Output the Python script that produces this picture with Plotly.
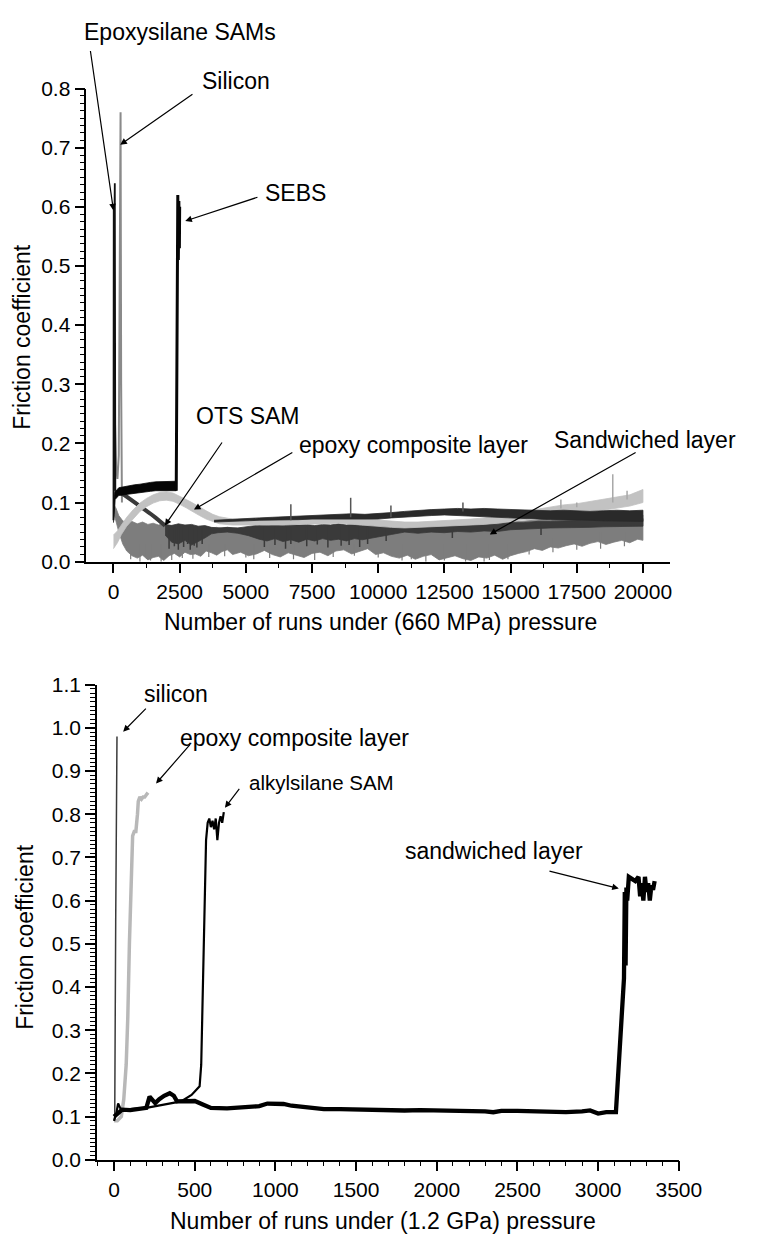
import plotly.graph_objects as go

W, H = 761, 1246
FONT = "Liberation Sans, Arial, Helvetica, sans-serif"

# ---------------- Top chart: 660 MPa ----------------
# Sandwiched layer (mid grey noisy band)
sand_x = [0, 100, 200, 350, 500, 700, 900, 1100, 1300, 1500, 1700, 1900, 2100, 2300, 2500, 2700,
          2900, 3100, 3300, 3500, 3700, 3900, 4100, 4300, 4500, 4800, 5100, 5400, 5700, 6000, 6300,
          6600, 6900, 7200, 7500, 7800, 8100, 8400, 8700, 9000, 9300, 9600, 9900, 10200, 10500,
          10800, 11100, 11400, 11700, 12000, 12300, 12600, 12900, 13200, 13500, 13800, 14100,
          14400, 14700, 15000, 15300, 15600, 15900, 16200, 16500, 16800, 17100, 17400, 17700,
          18000, 18300, 18600, 18900, 19200, 19500, 19800, 20000]
sand_hi = [0.098, 0.09, 0.078, 0.069, 0.066, 0.068, 0.064, 0.067, 0.063, 0.065, 0.062, 0.064, 0.061,
           0.062, 0.06, 0.061, 0.059, 0.06, 0.058, 0.059, 0.057, 0.058, 0.056, 0.058, 0.056, 0.057,
           0.055, 0.057, 0.055, 0.056, 0.058, 0.055, 0.057, 0.056, 0.058, 0.055, 0.057, 0.056, 0.058,
           0.057, 0.059, 0.057, 0.06, 0.059, 0.061, 0.06, 0.062, 0.061, 0.063, 0.062, 0.064, 0.062,
           0.064, 0.063, 0.065, 0.064, 0.066, 0.065, 0.066, 0.067, 0.068, 0.069, 0.07, 0.071, 0.07,
           0.072, 0.073, 0.072, 0.074, 0.075, 0.074, 0.076, 0.077, 0.076, 0.078, 0.077, 0.079]
sand_lo = [0.085, 0.068, 0.05, 0.03, 0.018, 0.01, 0.006, 0.011, 0.003, 0.007, 0.009, 0.002, 0.01,
           0.014, 0.008, 0.016, 0.012, 0.013, 0.009, 0.018, 0.015, 0.011, 0.017, 0.02, 0.012, 0.016,
           0.01, 0.013, 0.019, 0.012, 0.008, 0.015, 0.011, 0.007, 0.014, 0.016, 0.01, 0.018, 0.02,
           0.013, 0.017, 0.022, 0.012, 0.015, 0.009, 0.006, 0.011, 0.004, 0.009, 0.012, 0.003,
           0.007, 0.01, 0.005, 0.002, 0.008, 0.006, 0.011, 0.004, 0.01, 0.014, 0.017, 0.022, 0.019,
           0.025, 0.023, 0.027, 0.03, 0.026, 0.031, 0.034, 0.029, 0.033, 0.036, 0.032, 0.038, 0.036]
# thin downward noise spikes of the mid grey band
mspk_x = [650, 1000, 1250, 1400, 1800, 2200, 2600, 3000, 3600, 4200, 5000, 5300, 5900, 6800, 7600,
          8300, 9100, 10000, 10900, 11250, 11800, 12500, 13300, 14000, 14200, 14900, 15700, 16600,
          17500, 18400, 19300]
mspk_lo = [0.004, 0.0, 0.005, 0.002, 0.0, 0.003, 0.006, 0.005, 0.008, 0.009, 0.007, 0.004, 0.006,
           0.004, 0.003, 0.008, 0.01, 0.007, 0.002, 0.004, 0.0, 0.002, 0.0, 0.0, 0.003, 0.004,
           0.012, 0.016, 0.02, 0.022, 0.026]
mspk_hi = [0.03, 0.03, 0.03, 0.03, 0.03, 0.03, 0.03, 0.03, 0.03, 0.03, 0.03, 0.03, 0.03, 0.03,
           0.03, 0.03, 0.03, 0.03, 0.03, 0.03, 0.03, 0.03, 0.03, 0.03, 0.03, 0.03, 0.04, 0.04,
           0.05, 0.05, 0.05]

# OTS SAM (dark grey): declining line then noisy band
ots_line_x = [50, 200, 400, 600, 800, 1000, 1200, 1400, 1600, 1800, 1950]
ots_line_y = [0.118, 0.117, 0.113, 0.107, 0.1, 0.094, 0.088, 0.081, 0.074, 0.067, 0.061]
ots_x = [1950, 2200, 2450, 2700, 2950, 3200, 3450, 3700, 3950, 4300, 4700, 5100, 5500, 5800, 6100,
         6400, 6700, 7000, 7300, 7600, 7900, 8200, 8500, 8800, 9100, 9400, 9700, 10000, 10500,
         11000, 11500, 12000, 12500, 13000, 13500, 14000, 14500, 15000, 15500, 16000, 16500,
         17000, 17500, 18000, 18500, 19000, 19500, 20000]
ots_hi = [0.063, 0.061, 0.064, 0.062, 0.063, 0.06, 0.061, 0.058, 0.057, 0.058, 0.057, 0.06, 0.062,
          0.061, 0.063, 0.061, 0.064, 0.062, 0.063, 0.061, 0.063, 0.062, 0.064, 0.062, 0.063,
          0.061, 0.062, 0.062, 0.061, 0.06, 0.061, 0.062, 0.061, 0.063, 0.062, 0.064, 0.063,
          0.066, 0.066, 0.068, 0.068, 0.069, 0.07, 0.07, 0.071, 0.072, 0.072, 0.073]
ots_lo = [0.045, 0.033, 0.03, 0.036, 0.028, 0.034, 0.04, 0.047, 0.049, 0.05, 0.048, 0.044, 0.038,
          0.035, 0.039, 0.034, 0.037, 0.033, 0.038, 0.035, 0.039, 0.036, 0.038, 0.035, 0.039,
          0.037, 0.04, 0.042, 0.046, 0.05, 0.048, 0.05, 0.049, 0.051, 0.05, 0.052, 0.051, 0.054,
          0.055, 0.056, 0.057, 0.058, 0.058, 0.058, 0.059, 0.059, 0.06, 0.06]

# epoxy composite layer (light grey band)
epc_x = [0, 150, 300, 500, 750, 1000, 1250, 1500, 1750, 2000, 2250, 2500, 2750, 3000, 3250, 3500,
         3750, 4000, 4500, 5000, 5500, 6000, 6500, 7000, 7500, 8000, 8500, 9000, 9500, 10000,
         10500, 11000, 11500, 12000, 12500, 13000, 13500, 14000, 14500, 15000, 15500, 16000, 16500,
         17000, 17500, 18000, 18500, 19000, 19500, 20000]
epc_hi = [0.045, 0.052, 0.062, 0.075, 0.088, 0.099, 0.107, 0.113, 0.117, 0.118, 0.116, 0.111, 0.105,
          0.099, 0.092, 0.086, 0.08, 0.076, 0.072, 0.071, 0.071, 0.072, 0.072, 0.073, 0.074, 0.074,
          0.075, 0.074, 0.072, 0.07, 0.068, 0.067, 0.067, 0.068, 0.069, 0.071, 0.072, 0.074, 0.077,
          0.08, 0.085, 0.089, 0.093, 0.096, 0.098, 0.102, 0.105, 0.109, 0.113, 0.122]
epc_lo = [0.022, 0.032, 0.046, 0.06, 0.073, 0.085, 0.093, 0.099, 0.103, 0.104, 0.102, 0.097, 0.091,
          0.085, 0.078, 0.072, 0.068, 0.064, 0.062, 0.061, 0.061, 0.062, 0.062, 0.063, 0.064, 0.064,
          0.065, 0.064, 0.062, 0.06, 0.058, 0.057, 0.057, 0.058, 0.059, 0.061, 0.062, 0.063, 0.065,
          0.067, 0.07, 0.074, 0.077, 0.08, 0.082, 0.085, 0.087, 0.09, 0.094, 0.1]

# upper dark band
dk_x = [3800, 4500, 5000, 5500, 6000, 6500, 7000, 7500, 8000, 8500, 9000, 9500, 10000, 10500, 11000,
        11500, 12000, 12500, 13000, 13500, 14000, 14500, 15000, 15500, 16000, 16500, 17000, 17500,
        18000, 18500, 19000, 19500, 20000]
dk_hi = [0.07, 0.072, 0.073, 0.074, 0.075, 0.076, 0.077, 0.078, 0.079, 0.08, 0.081, 0.08, 0.081,
         0.083, 0.085, 0.087, 0.088, 0.089, 0.09, 0.089, 0.09, 0.089, 0.088, 0.087, 0.086, 0.086,
         0.087, 0.086, 0.085, 0.086, 0.087, 0.086, 0.087]
dk_lo = [0.067, 0.068, 0.069, 0.07, 0.07, 0.071, 0.071, 0.072, 0.072, 0.073, 0.073, 0.072, 0.072,
         0.074, 0.076, 0.077, 0.078, 0.079, 0.079, 0.078, 0.077, 0.076, 0.074, 0.073, 0.072, 0.071,
         0.071, 0.07, 0.07, 0.069, 0.069, 0.068, 0.068]

# SEBS (black band then failure spike)
sebs_x = [0, 60, 200, 400, 600, 800, 1000, 1200, 1400, 1600, 1800, 2000, 2200, 2370]
sebs_hi = [0.1, 0.118, 0.125, 0.127, 0.128, 0.13, 0.131, 0.133, 0.134, 0.135, 0.135, 0.136, 0.135, 0.136]
sebs_lo = [0.066, 0.105, 0.112, 0.113, 0.115, 0.116, 0.117, 0.118, 0.119, 0.12, 0.12, 0.121, 0.12, 0.12]
sebs_fail_x = [2370, 2400, 2430, 2450, 2470, 2490, 2500]
sebs_fail_y = [0.12, 0.48, 0.62, 0.51, 0.61, 0.53, 0.6]

# Epoxysilane SAMs (black spike)
esam_x = [0, 10, 30, 50, 70]
esam_y = [0.07, 0.6, 0.56, 0.64, 0.12]

# Silicon (grey spike)
si_x = [30, 60, 100, 150, 200, 240, 268, 290, 320]
si_y = [0.09, 0.23, 0.16, 0.14, 0.18, 0.45, 0.76, 0.3, 0.1]

# visible spikes in the dark noise
dspk_x = [2100, 2300, 2450, 2650, 2800, 2900, 3050, 3150, 3350, 5700, 6100, 6500, 6700, 7300,
          7700, 8100, 8600, 8900, 9300, 9600, 10300, 12800, 16150]
dspk_lo = [0.022, 0.026, 0.02, 0.025, 0.03, 0.02, 0.027, 0.024, 0.03, 0.025, 0.028, 0.022, 0.03,
           0.026, 0.029, 0.024, 0.027, 0.028, 0.025, 0.03, 0.035, 0.04, 0.045]
dspk_hi = [0.06, 0.06, 0.06, 0.06, 0.06, 0.06, 0.06, 0.06, 0.058, 0.06, 0.06, 0.06, 0.06, 0.06,
           0.06, 0.06, 0.06, 0.06, 0.06, 0.06, 0.06, 0.06, 0.065]
uspk_x = [6700, 8960, 10480, 13200]
uspk_lo = [0.07, 0.075, 0.075, 0.085]
uspk_hi = [0.097, 0.108, 0.095, 0.1]
lspk_x = [16900, 17500, 18860, 19400]
lspk_lo = [0.09, 0.092, 0.1, 0.105]
lspk_hi = [0.105, 0.1, 0.148, 0.12]

top_xticks = [0, 2500, 5000, 7500, 10000, 12500, 15000, 17500, 20000]
top_yticks = [0.0, 0.1, 0.2, 0.3, 0.4, 0.5, 0.6, 0.7, 0.8]

# ---------------- Bottom chart: 1.2 GPa ----------------
b_si_x = [0, 4, 10, 18]
b_si_y = [0.09, 0.1, 0.55, 0.98]

b_epc_x = [0, 20, 45, 60, 75, 85, 95, 105, 115, 125, 135, 145, 150, 160, 170, 180, 190, 200, 210]
b_epc_y = [0.09, 0.09, 0.1, 0.14, 0.22, 0.33, 0.5, 0.67, 0.75, 0.76, 0.76, 0.8, 0.83, 0.84, 0.835,
           0.84, 0.84, 0.845, 0.85]

b_alk_x = [0, 15, 25, 40, 100, 200, 300, 415, 480, 530, 540, 550, 560, 570, 580, 590, 600, 610,
           620, 630, 640, 650, 660, 670, 680]
b_alk_y = [0.09, 0.11, 0.13, 0.118, 0.117, 0.12, 0.127, 0.135, 0.15, 0.17, 0.22, 0.4, 0.6, 0.74,
           0.78, 0.79, 0.77, 0.785, 0.765, 0.79, 0.74, 0.78, 0.795, 0.78, 0.805]

b_sand_x = [0, 50, 100, 150, 200, 220, 240, 255, 280, 310, 345, 370, 390, 415, 450, 500, 550, 600,
            700, 800, 900, 950, 1000, 1050, 1100, 1200, 1300, 1400, 1500, 1600, 1700, 1800, 1900,
            2000, 2100, 2200, 2300, 2350, 2400, 2500, 2600, 2700, 2800, 2900, 2950, 3000, 3050,
            3110, 3130, 3150, 3160, 3165, 3170, 3175, 3180, 3190, 3210, 3230, 3250, 3260, 3270,
            3280, 3290, 3300, 3310, 3320, 3330, 3340, 3350]
b_sand_y = [0.1, 0.116, 0.115, 0.117, 0.12, 0.146, 0.135, 0.131, 0.14, 0.148, 0.154, 0.148, 0.135,
            0.135, 0.137, 0.136, 0.128, 0.12, 0.119, 0.121, 0.124, 0.13, 0.13, 0.129, 0.125, 0.12,
            0.117, 0.117, 0.116, 0.115, 0.115, 0.114, 0.115, 0.114, 0.113, 0.114, 0.112, 0.11,
            0.113, 0.113, 0.112, 0.113, 0.11, 0.112, 0.114, 0.107, 0.11, 0.11, 0.25, 0.35, 0.42,
            0.62, 0.45, 0.63, 0.6, 0.655, 0.65, 0.645, 0.655, 0.61, 0.64, 0.6, 0.655, 0.62, 0.64,
            0.6, 0.635, 0.625, 0.645]

bot_xticks = [0, 500, 1000, 1500, 2000, 2500, 3000, 3500]
bot_yticks = [0.0, 0.1, 0.2, 0.3, 0.4, 0.5, 0.6, 0.7, 0.8, 0.9, 1.0, 1.1]

fig = go.Figure()


def band(x, lo, hi, color, xa, ya):
    fig.add_trace(go.Scatter(x=list(x) + list(x)[::-1], y=list(hi) + list(lo)[::-1],
                             fill='toself', fillcolor=color, mode='lines',
                             line=dict(color=color, width=0.8), xaxis=xa, yaxis=ya,
                             showlegend=False, hoverinfo='skip'))


def line(x, y, color, width, xa, ya):
    fig.add_trace(go.Scatter(x=x, y=y, mode='lines', line=dict(color=color, width=width),
                             xaxis=xa, yaxis=ya, showlegend=False, hoverinfo='skip'))


def spikes(xs, lo, hi, color, width, xa, ya):
    X, Y = [], []
    for a, b, c in zip(xs, lo, hi):
        X += [a, a, None]
        Y += [b, c, None]
    line(X, Y, color, width, xa, ya)


MID = '#7d7d7d'
DARK = '#3a3a3a'
LIGHT = '#c2c2c2'
DARKER = '#2a2a2a'

# top chart traces
band(sand_x, sand_lo, sand_hi, MID, 'x', 'y')
spikes(mspk_x, mspk_lo, mspk_hi, MID, 1.2, 'x', 'y')
line(si_x, si_y, '#8a8a8a', 2, 'x', 'y')
band(ots_x, ots_lo, ots_hi, DARK, 'x', 'y')
spikes(dspk_x, dspk_lo, dspk_hi, DARK, 1.5, 'x', 'y')
line(ots_line_x, ots_line_y, DARK, 4, 'x', 'y')
band(epc_x, epc_lo, epc_hi, LIGHT, 'x', 'y')
spikes(lspk_x, lspk_lo, lspk_hi, '#a8a8a8', 1.5, 'x', 'y')
band(dk_x, dk_lo, dk_hi, DARKER, 'x', 'y')
spikes(uspk_x, uspk_lo, uspk_hi, '#555555', 1.5, 'x', 'y')
band(sebs_x, sebs_lo, sebs_hi, '#050505', 'x', 'y')
line(sebs_fail_x, sebs_fail_y, '#050505', 3, 'x', 'y')
line(esam_x, esam_y, '#111111', 1.8, 'x', 'y')

# bottom chart traces
line(b_epc_x, b_epc_y, '#b8b8b8', 3.5, 'x2', 'y2')
line(b_si_x, b_si_y, '#3a3a3a', 1.5, 'x2', 'y2')
line(b_alk_x, b_alk_y, '#000000', 2.2, 'x2', 'y2')
line(b_sand_x, b_sand_y, '#000000', 4.3, 'x2', 'y2')


def px_x(p):
    return p / W


def px_y(p):
    return 1 - p / H


axis_common = dict(showline=True, linecolor='black', linewidth=1.5, ticks='outside',
                   tickcolor='black', tickwidth=1.5, ticklen=10, showgrid=False, zeroline=False,
                   tickfont=dict(family=FONT, size=21, color='black'), fixedrange=True)

fig.update_layout(
    width=W, height=H, margin=dict(l=0, r=0, t=0, b=0),
    paper_bgcolor='white', plot_bgcolor='white', showlegend=False,
    xaxis=dict(domain=[px_x(89), px_x(691)], range=[-1026, 21026], anchor='y',
               tickvals=top_xticks, ticktext=[str(v) for v in top_xticks],
               minor=dict(dtick=1250, tick0=0, ticks='outside', ticklen=5, tickwidth=1.2,
                          tickcolor='black', showgrid=False),
               **axis_common),
    yaxis=dict(domain=[px_y(560), px_y(78)], range=[0, 0.8], anchor='x',
               tickvals=top_yticks, ticktext=['%.1f' % v for v in top_yticks],
               minor=dict(dtick=0.0125, tick0=0, ticks='outside', ticklen=5, tickwidth=1.2,
                          tickcolor='black', showgrid=False),
               **axis_common),
    xaxis2=dict(domain=[px_x(100), px_x(700)], range=[-106, 3500], anchor='y2',
                tickvals=bot_xticks, ticktext=[str(v) for v in bot_xticks],
                minor=dict(dtick=100, tick0=0, ticks='outside', ticklen=5, tickwidth=1.2,
                           tickcolor='black', showgrid=False),
                **axis_common),
    yaxis2=dict(domain=[px_y(1169.3), px_y(685.3)], range=[0, 1.1], anchor='x2',
                tickvals=bot_yticks, ticktext=['%.1f' % v for v in bot_yticks],
                minor=dict(dtick=0.01, tick0=0, ticks='outside', ticklen=5, tickwidth=1.2,
                           tickcolor='black', showgrid=False),
                **axis_common),
)


def text(px, py, s, size=23, angle=0):
    fig.add_annotation(xref='paper', yref='paper', x=px_x(px), y=px_y(py), text=s,
                       showarrow=False, xanchor='center', yanchor='middle', textangle=angle,
                       font=dict(family=FONT, size=size, color='black'))


def arrow(xr, yr, tx, ty, hx, hy):
    fig.add_annotation(xref=xr, yref=yr, axref=xr, ayref=yr, x=hx, y=hy, ax=tx, ay=ty, text='',
                       showarrow=True, arrowhead=2, arrowsize=1.1, arrowwidth=1.2,
                       arrowcolor='black', standoff=0, startstandoff=0)


# axis titles
text(392, 621, 'Number of runs under (660 MPa) pressure')
text(22.5, 331, 'Friction coefficient', angle=-90)
text(395, 1232, 'Number of runs under (1.2 GPa) pressure')
text(25, 942, 'Friction coefficient', angle=-90)

# top labels
text(186, 20, 'Epoxysilane SAMs')
text(243, 70, 'Silicon')
text(304.5, 184, 'SEBS')
text(256, 412, 'OTS SAM')
text(426.5, 441, 'epoxy composite layer')
text(665.5, 436, 'Sandwiched layer')
arrow('x', 'y', -879, 0.866, 0, 0.594)
arrow('x', 'y', 3040, 0.792, 256, 0.705)
arrow('x', 'y', 5495, 0.617, 2711, 0.576)
arrow('x', 'y', 4139, 0.204, 1941, 0.061)
arrow('x', 'y', 6813, 0.186, 3040, 0.088)
arrow('x', 'y', 19780, 0.186, 14212, 0.046)

# bottom labels
text(181, 695, 'silicon')
text(304, 740, 'epoxy composite layer')
text(331.5, 785, 'alkylsilane SAM', size=20.5)
text(509, 855, 'sandwiched layer')
arrow('x2', 'y2', 206, 1.048, 56, 0.991)
arrow('x2', 'y2', 477, 0.964, 260, 0.871)
arrow('x2', 'y2', 783, 0.862, 687, 0.815)
arrow('x2', 'y2', 2689, 0.669, 3128, 0.628)

fig.write_html("out.html")
